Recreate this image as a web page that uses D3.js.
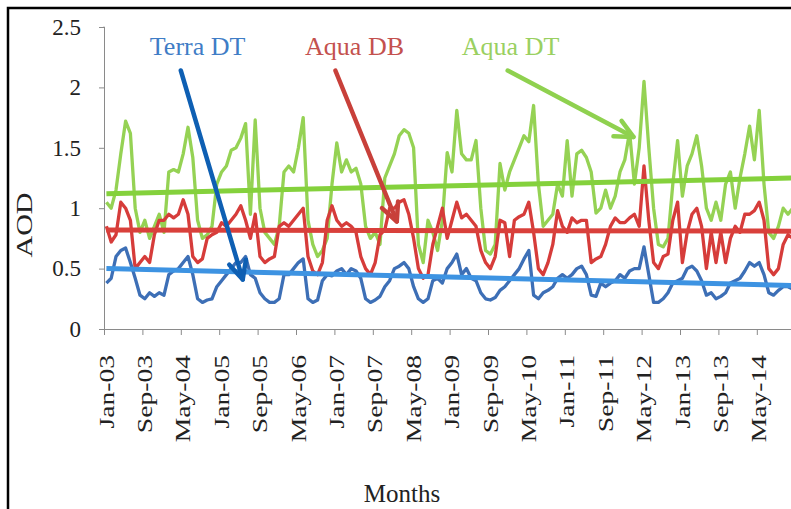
<!DOCTYPE html>
<html>
<head>
<meta charset="utf-8">
<script src="https://cdn.jsdelivr.net/npm/d3@7"></script>
<style>
  body { margin: 0; background: #fff; }
  svg { display: block; }
  svg text { font-family: "Liberation Serif", "Times New Roman", serif; }
  .axis path, .axis line { stroke: #8a8a8a; }
  .axis text { fill: #222; }
</style>
</head>
<body>
<div id="chart"></div>
<script>
// monthly AOD, Jan 2003 - Dec 2014
const years = ["03", "04", "05", "06", "07", "08", "09", "10", "11", "12", "13", "14"];
const monthNames = ["Jan", "Feb", "Mar", "Apr", "May", "Jun", "Jul", "Aug", "Sep", "Oct", "Nov", "Dec"];

const aquaDT = [
  1.05, 1.0, 1.15, 1.45, 1.72, 1.62, 1.0, 0.8, 0.9, 0.75, 0.85, 0.95,
  0.8, 1.3, 1.32, 1.3, 1.45, 1.67, 1.42, 0.9, 0.75, 0.78, 0.85, 1.2,
  1.3, 1.35, 1.48, 1.5, 1.58, 1.7, 0.95, 1.73, 1.0, 0.8, 0.75, 0.7,
  0.85, 1.3, 1.35, 1.3, 1.5, 1.75, 0.9, 0.7, 0.6, 0.65, 0.75, 1.2,
  1.54, 1.3, 1.4, 1.3, 1.33, 1.2, 0.85, 0.75, 0.8, 0.7, 1.25, 1.35,
  1.45, 1.6, 1.65, 1.62, 1.5, 0.7, 0.55, 0.9, 0.8, 0.65, 0.9, 1.46,
  1.3, 1.81, 1.45, 1.4, 1.4, 1.56, 1.0, 0.65, 0.62, 0.7, 1.37, 1.15,
  1.3, 1.4, 1.5, 1.6, 1.55, 1.85, 1.2, 0.85, 0.9, 0.95, 1.2, 1.1,
  1.56, 1.1, 1.45, 1.48, 1.42, 1.3, 0.96, 1.0, 1.15, 1.0, 1.1, 1.3,
  1.4, 1.63, 1.2, 1.5, 2.05, 1.5, 1.0, 0.7, 0.68, 0.75, 1.2, 1.56,
  1.1, 1.35, 1.45, 1.6, 1.35, 1.0, 0.9, 1.05, 0.9, 1.2, 1.3, 1.0,
  1.25, 1.45, 1.68, 1.4, 1.81, 1.2, 0.8, 0.75, 0.85, 1.0, 0.95, 1.0,
];

const aquaDB = [
  0.85, 0.72, 0.78, 1.05, 1.0, 0.9, 0.5, 0.55, 0.6, 0.55, 0.78, 0.9,
  0.9, 0.95, 0.92, 0.95, 1.07, 0.95, 0.6, 0.55, 0.58, 0.75, 0.78, 0.8,
  0.88, 0.85, 0.9, 0.95, 1.02, 0.9, 0.75, 0.95, 0.6, 0.55, 0.58, 0.6,
  0.85, 0.88, 0.85, 0.9, 0.95, 1.0, 0.6, 0.48, 0.45, 0.55, 0.9, 1.02,
  0.9, 0.85, 0.88, 0.85, 0.8, 0.6, 0.5, 0.45, 0.55, 0.78, 0.82, 1.0,
  1.0, 1.05, 1.07, 0.95, 0.75, 0.5, 0.42, 0.45, 0.7, 0.85, 1.0, 0.75,
  0.9, 1.05, 0.92, 0.95, 0.9, 0.85, 0.65, 0.55, 0.5, 0.6, 0.9, 0.88,
  0.6, 0.9, 0.93, 0.95, 1.05, 0.8, 0.5, 0.45, 0.55, 0.7, 0.98, 0.85,
  0.8, 0.92, 0.88, 0.9, 0.9, 0.55, 0.58, 0.6, 0.7, 0.85, 0.92, 0.88,
  0.88, 0.92, 0.95, 0.85, 1.35, 0.9, 0.55, 0.5, 0.6, 0.62, 0.9, 1.05,
  0.55, 0.8, 0.95, 1.0, 0.85, 0.5, 0.8, 0.55, 0.8, 0.55, 0.75, 0.85,
  0.8, 0.95, 0.95, 0.98, 1.05, 0.9, 0.5, 0.45, 0.5, 0.7, 0.78, 0.75,
];

const terraDT = [
  0.38, 0.42, 0.6, 0.65, 0.67, 0.55, 0.42, 0.28, 0.25, 0.3, 0.27, 0.3,
  0.28, 0.45, 0.48, 0.5, 0.55, 0.6, 0.45, 0.25, 0.22, 0.24, 0.25, 0.35,
  0.4, 0.45, 0.5, 0.55, 0.55, 0.6, 0.45, 0.42, 0.3, 0.25, 0.22, 0.22,
  0.25, 0.45, 0.45, 0.5, 0.55, 0.58, 0.25, 0.22, 0.24, 0.4, 0.45, 0.44,
  0.48, 0.5, 0.45, 0.5, 0.48, 0.42, 0.25, 0.22, 0.24, 0.27, 0.35, 0.4,
  0.5, 0.52, 0.55, 0.5, 0.35, 0.25, 0.22, 0.25, 0.4, 0.42, 0.38, 0.5,
  0.55, 0.62, 0.45, 0.5, 0.42, 0.4, 0.3, 0.25, 0.24, 0.26, 0.32, 0.35,
  0.4, 0.45, 0.5, 0.58, 0.65, 0.28, 0.25, 0.3, 0.32, 0.35, 0.42, 0.45,
  0.42, 0.45, 0.5, 0.52, 0.45, 0.28, 0.27, 0.38, 0.35, 0.38, 0.4, 0.45,
  0.42, 0.48, 0.5, 0.5, 0.68, 0.45, 0.22, 0.22, 0.25, 0.3, 0.38, 0.4,
  0.42, 0.5, 0.52, 0.48, 0.4, 0.28, 0.3, 0.25, 0.27, 0.3, 0.38, 0.4,
  0.42, 0.48, 0.55, 0.52, 0.55, 0.45, 0.3, 0.28, 0.32, 0.35, 0.35, 0.33,
];

// linear trend, value at first and last month
const trendAquaDT = [1.12, 1.25];
const trendAquaDB = [0.82, 0.81];
const trendTerraDT = [0.5, 0.36];

const yTicks = [0, 0.5, 1, 1.5, 2, 2.5];

// labels and arrows in data units: [month index, AOD]
const labelPos = { "Terra DT": [19.5, 2.27], "Aqua DB": [52.2, 2.27], "Aqua DT": [84.7, 2.27] };
const arrowTerra = [[16, 2.14], [28.9, 0.41]];
const arrowDB = [[48.2, 2.14], [61, 0.89]];
const arrowDT = [[84.1, 2.14], [110.3, 1.59]];

const months = [];
years.forEach((y) => monthNames.forEach((m) => months.push(m + "-" + y)));

function drawChart(id) {
  const W = 791, H = 509;
  const left = 104, bottom = 329, top = 27;
  const step = 4.8;
  const serif = "Liberation Serif";

  const svg = d3.select(`#${id}`).append("svg").attr("width", W).attr("height", H);

  // outer frame
  svg.append("rect")
    .attr("x", 8).attr("y", 8).attr("width", 820).attr("height", 540)
    .attr("fill", "none").attr("stroke", "#000").attr("stroke-width", 2.5);

  const x = d3.scaleLinear().domain([0, months.length]).range([left, left + months.length * step]);
  const y = d3.scaleLinear().domain([0, 2.5]).range([bottom, top]);
  const xc = (i) => x(i + 0.5);

  // y axis
  const yAxis = svg.append("g")
    .attr("class", "axis")
    .attr("transform", `translate(${left},0)`)
    .call(d3.axisLeft(y).tickValues(yTicks).tickSize(5).tickPadding(18).tickFormat((d) => d3.format("")(d)));
  yAxis.attr("font-family", serif);
  yAxis.selectAll("text").attr("font-size", 23).attr("font-family", serif);
  yAxis.select(".domain").attr("d", `M-0.5,${top}H0.5V${bottom}`);

  // x axis, a tick every 8 months
  const tickIdx = d3.range(0, months.length, 8);
  const xAxis = svg.append("g")
    .attr("class", "axis")
    .attr("transform", `translate(0,${bottom})`)
    .call(d3.axisBottom(x).tickValues(tickIdx).tickSize(6).tickSizeOuter(0).tickFormat((i) => months[i]));
  xAxis.attr("font-family", serif);
  xAxis.selectAll("text")
    .attr("font-size", 20)
    .attr("font-family", serif)
    .attr("text-anchor", "end")
    .attr("y", 0)
    .attr("dy", 0)
    .attr("transform", "translate(9,26) rotate(-90) scale(1.38,1)");

  // axis titles
  svg.append("text")
    .attr("transform", "translate(32,225) rotate(-90) scale(1.25,1)")
    .attr("text-anchor", "middle")
    .attr("font-family", serif)
    .attr("font-size", 24)
    .attr("fill", "#222")
    .text("AOD");
  svg.append("text")
    .attr("x", 402).attr("y", 502)
    .attr("text-anchor", "middle")
    .attr("font-family", serif)
    .attr("font-size", 25)
    .attr("fill", "#222")
    .text("Months");

  const line = d3.line().x((d, i) => xc(i)).y((d) => y(d));

  const series = [
    { data: aquaDT, color: "#95d254" },
    { data: aquaDB, color: "#d63c3a" },
    { data: terraDT, color: "#3d6fb6" },
  ];
  series.forEach((s) => {
    svg.append("path")
      .datum(s.data)
      .attr("d", line)
      .attr("fill", "none")
      .attr("stroke", s.color)
      .attr("stroke-width", 3.3)
      .attr("stroke-linejoin", "round");
  });

  // trend lines
  const trends = [
    { v: trendAquaDT, color: "#84d13c" },
    { v: trendAquaDB, color: "#d9403b" },
    { v: trendTerraDT, color: "#3d93e2" },
  ];
  const last = months.length - 1;
  trends.forEach((t) => {
    svg.append("line")
      .attr("x1", xc(0)).attr("y1", y(t.v[0]))
      .attr("x2", xc(last)).attr("y2", y(t.v[1]))
      .attr("stroke", t.color)
      .attr("stroke-width", 5);
  });

  // arrows with open heads
  const arrows = [
    { p: arrowTerra, color: "#0e5fb3" },
    { p: arrowDB, color: "#c8403a" },
    { p: arrowDT, color: "#8fd14f" },
  ];
  arrows.forEach((a) => {
    const x1 = x(a.p[0][0]), y1 = y(a.p[0][1]);
    const x2 = x(a.p[1][0]), y2 = y(a.p[1][1]);
    const ang = Math.atan2(y2 - y1, x2 - x1);
    const hl = 20, spread = 0.45;
    const g = svg.append("g").attr("stroke", a.color).attr("stroke-width", 4.5)
      .attr("stroke-linecap", "round").attr("fill", "none");
    g.append("line").attr("x1", x1).attr("y1", y1).attr("x2", x2).attr("y2", y2);
    g.append("path")
      .attr("stroke-linejoin", "round")
      .attr("d", `M${x2 - hl * Math.cos(ang - spread)},${y2 - hl * Math.sin(ang - spread)}L${x2},${y2}L${x2 - hl * Math.cos(ang + spread)},${y2 - hl * Math.sin(ang + spread)}`);
  });

  // series labels
  const labelColors = { "Terra DT": "#3f7dc6", "Aqua DB": "#c4514e", "Aqua DT": "#9ad061" };
  Object.entries(labelPos).forEach(([name, p]) => {
    svg.append("text")
      .attr("x", x(p[0])).attr("y", y(p[1]))
      .attr("text-anchor", "middle")
      .attr("font-family", serif)
      .attr("font-size", 26)
      .attr("fill", labelColors[name])
      .text(name);
  });
}

document.addEventListener("DOMContentLoaded", function () {
  drawChart("chart");
});
</script>
</body>
</html>
